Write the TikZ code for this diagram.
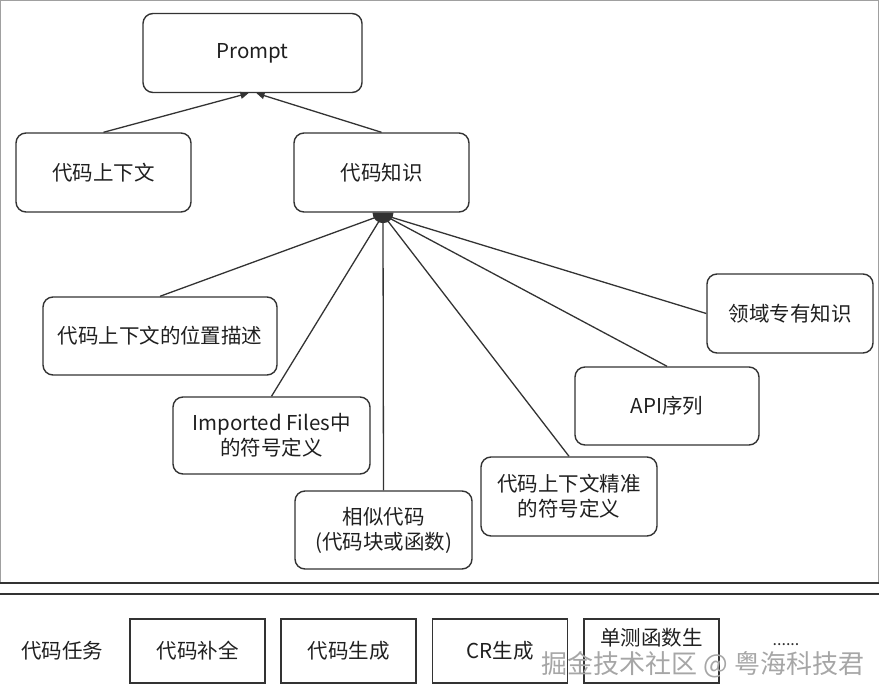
\documentclass[tikz,border=0pt]{standalone}
\usepackage{fontspec}
\setmainfont{Noto Sans CJK SC}
\usepackage{xcolor}
\usepackage{tikz}
\usetikzlibrary{
  positioning,
  calc,
  arrows.meta
}

\definecolor{linegray}{HTML}{333333}
\definecolor{framegray}{HTML}{A0A0A0}

\tikzset{
  kbox/.style={draw=linegray, line width=1.4pt, rounded corners=10pt,
    align=center, inner sep=0pt, text=black!88,
    font=\fontsize{20.5pt}{25pt}\selectfont},
  tbox/.style={draw=linegray, line width=1.4pt, inner sep=0pt,
    minimum width=135pt, minimum height=64pt, text=black!88,
    font=\fontsize{20.5pt}{25pt}\selectfont},
  link/.style={draw=linegray, line width=1.3pt},
  toprompt/.style={link, -{Triangle[length=8pt,width=7pt]}}
}

\begin{document}
\begin{tikzpicture}[x=1pt,y=-1pt]
  \useasboundingbox (0,0) rectangle (879,700);

  % 外框と区切り線
  \draw[framegray, line width=1pt] (0.5,583) -- (0.5,0.5) -- (878.5,0.5) -- (878.5,583);
  \draw[linegray, line width=1.6pt] (0,583) -- (879,583);
  \draw[linegray, line width=1.6pt] (0,594) -- (879,594);

  % 上段のノード
  \node[kbox, minimum width=219pt, minimum height=79pt] (prompt) at (252.5,53) {Prompt};
  \node[kbox, minimum width=175pt, minimum height=79pt] (ctx) at (103.5,172.5) {代码上下文};
  \node[kbox, minimum width=175pt, minimum height=79pt] (know) at (381.5,172.5) {代码知识};

  % 代码知识の下位ノード
  \node[kbox, minimum width=234pt, minimum height=78pt] (pos) at (160,336) {代码上下文的位置描述};
  \node[kbox, minimum width=197pt, minimum height=77pt] (imp) at (271.5,435.5) {Imported Files中\\的符号定义};
  \node[kbox, minimum width=177pt, minimum height=78pt] (sim) at (383.5,530) {相似代码\\(代码块或函数)};
  \node[kbox, minimum width=176pt, minimum height=79pt] (sym) at (569,496.5) {代码上下文精准\\的符号定义};
  \node[kbox, minimum width=184pt, minimum height=78pt] (api) at (667,406) {API序列};
  \node[kbox, minimum width=166pt, minimum height=79pt] (dom) at (790,313.5) {领域专有知识};

  % Prompt への矢印
  \coordinate (inL) at ($(prompt.south)+(-4,0)$);
  \coordinate (inR) at ($(prompt.south)+(4,0)$);
  \draw[toprompt] (ctx.north) -- (inL);
  \draw[toprompt] (know.north) -- (inR);

  % 集約点から各ノードへ
  \coordinate (hub) at ($(know.south)+(1.5,2)$);
  \fill[linegray] ($(know.south)+(-9,0)$) arc[start angle=180, end angle=0, radius=10.5];
  \foreach \t in {pos, imp, sim, sym, api}
    \draw[link] (hub) -- (\t.north);
  \draw[link] (hub) -- (dom.west);

  % 下段: 代码任务
  \node[text=black!88, font=\fontsize{20.5pt}{25pt}\selectfont] (task) at (62,651) {代码任务};
  \node[tbox] (t1) at (197.5,651) {代码补全};
  \node[tbox] (t2) at (348.5,651) {代码生成};
  \node[tbox] (t3) at (500,651) {CR生成};
  \node[tbox] (t4) at (651.5,651) {};
  \node[text=black!88, font=\fontsize{20.5pt}{25pt}\selectfont] (t4txt) at (651.5,638) {单测函数生};
  \node[text=black!80, font=\fontsize{16pt}{18pt}\selectfont] (more) at (786,645) {......};

  % 透かし
  \node[text=gray!70, font=\fontsize{26pt}{28pt}\selectfont] (mark) at (703,665) {掘金技术社区 @ 粤海科技君};
\end{tikzpicture}
\end{document}
